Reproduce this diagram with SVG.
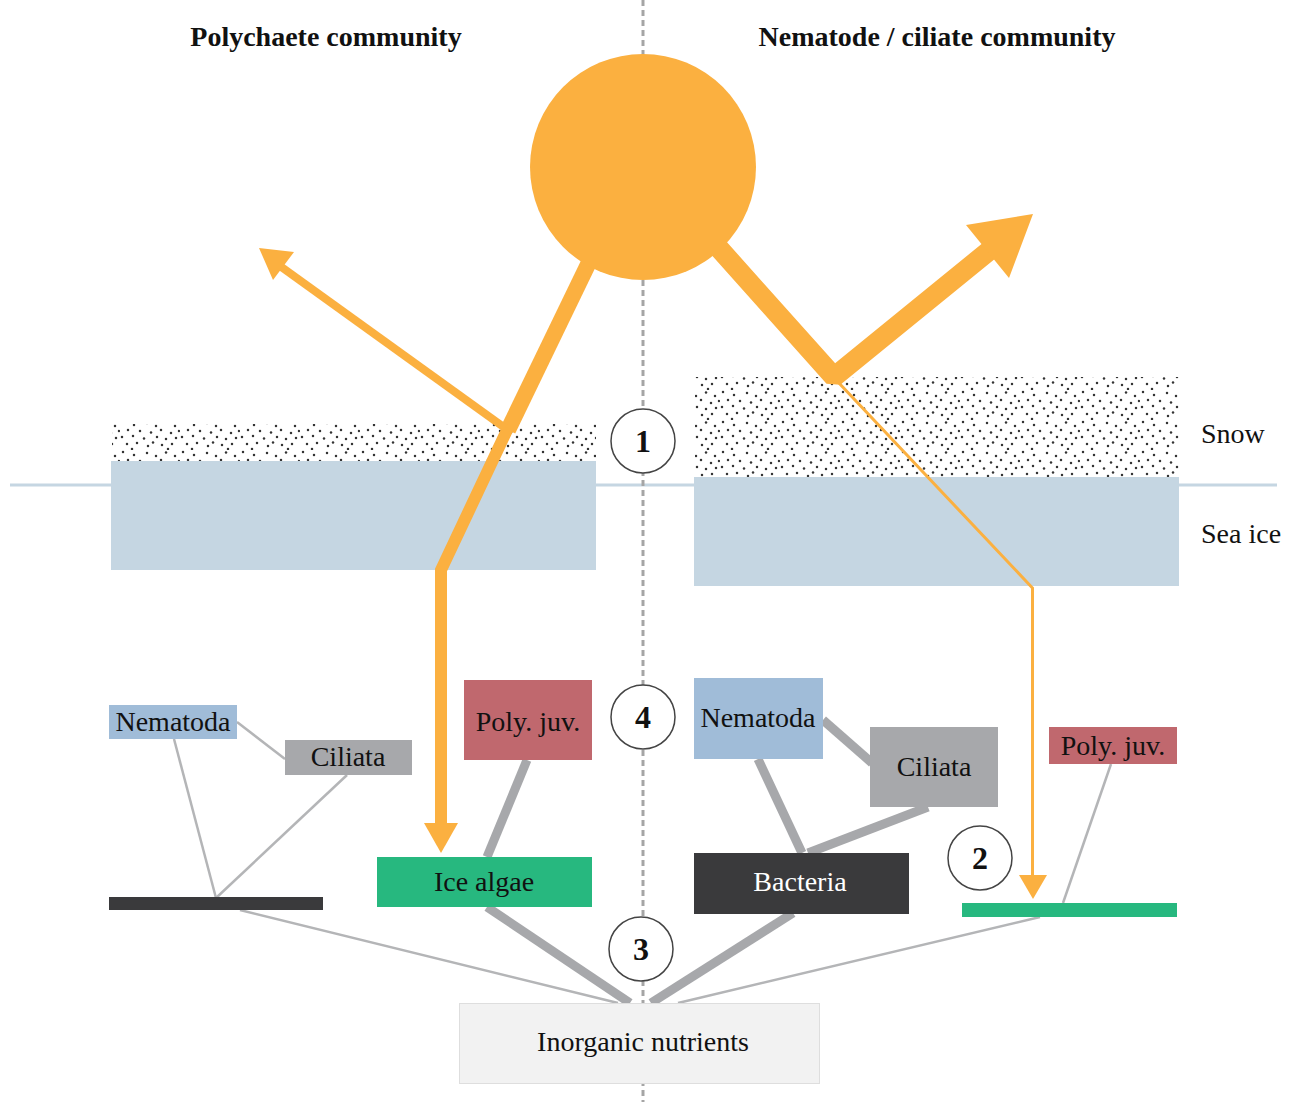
<svg xmlns="http://www.w3.org/2000/svg" width="1295" height="1102" viewBox="0 0 1295 1102">
<style>
.t{font-family:"Liberation Serif","Times New Roman",serif;font-size:28px;fill:#111;text-anchor:middle}
.b{font-weight:bold}
.lab{text-anchor:start}
.num{font-family:"Liberation Serif","Times New Roman",serif;font-weight:bold;font-size:32px;fill:#111;text-anchor:middle}
.circ{fill:#fff;stroke:#444;stroke-width:1.5}
.thin{stroke:#b4b5b7;stroke-width:2.5;fill:none}
.thick{stroke:#a7a8ab;stroke-width:9;fill:none}
.beam{stroke:#fbb040;fill:none}
.ar{fill:#fbb040}
</style>
<defs>
<pattern id="snow" patternUnits="userSpaceOnUse" width="60" height="30">
<g fill="#333">
<circle cx="3" cy="2" r="1.25"/><circle cx="14" cy="5" r="1.25"/><circle cx="27" cy="3" r="1.25"/><circle cx="36" cy="6" r="1.25"/><circle cx="46" cy="2.5" r="1.25"/><circle cx="55" cy="6" r="1.25"/>
<circle cx="8" cy="10" r="1.25"/><circle cx="20" cy="11" r="1.25"/><circle cx="31" cy="12.5" r="1.25"/><circle cx="41" cy="10" r="1.25"/><circle cx="51" cy="13" r="1.25"/><circle cx="59" cy="11" r="1.25"/>
<circle cx="2" cy="17" r="1.25"/><circle cx="13" cy="16" r="1.25"/><circle cx="24" cy="18.5" r="1.25"/><circle cx="37" cy="17" r="1.25"/><circle cx="46" cy="19" r="1.25"/><circle cx="56" cy="18" r="1.25"/>
<circle cx="7" cy="24" r="1.25"/><circle cx="17" cy="23" r="1.25"/><circle cx="28" cy="26" r="1.25"/><circle cx="33" cy="22.5" r="1.25"/><circle cx="42" cy="25" r="1.25"/><circle cx="52" cy="24" r="1.25"/><circle cx="12" cy="29" r="1.25"/><circle cx="48" cy="29" r="1.25"/>
</g>
</pattern>
</defs>
<rect width="1295" height="1102" fill="#fff"/>

<g id="sea">
<line x1="10" y1="485" x2="1277" y2="485" stroke="#c5d6e2" stroke-width="3"/>
<rect x="111" y="461" width="485" height="109" fill="#c5d6e2"/>
<rect x="694" y="477" width="485" height="109" fill="#c5d6e2"/>
<rect x="112" y="424" width="484" height="37" fill="url(#snow)"/>
<rect x="695" y="377" width="484" height="100" fill="url(#snow)"/>
</g>

<line id="divider" x1="643" y1="0" x2="643" y2="1102" stroke="#a5a5a5" stroke-width="3" stroke-dasharray="6 4"/>

<g id="connectors">
<line class="thin" x1="237" y1="722" x2="285" y2="759"/>
<line class="thin" x1="174" y1="739" x2="216" y2="898"/>
<line class="thin" x1="347" y1="775" x2="216" y2="898"/>
<line class="thick" x1="527" y1="760" x2="487" y2="857"/>
<line class="thin" x1="240" y1="910" x2="618" y2="1003"/>
<line class="thick" x1="487" y1="907" x2="630" y2="1003"/>
<line class="thick" x1="823" y1="720" x2="872" y2="763"/>
<line class="thick" x1="758" y1="759" x2="802" y2="853"/>
<line class="thick" x1="928" y1="807" x2="808" y2="853"/>
<line class="thin" x1="1111" y1="764" x2="1063" y2="903"/>
<line class="thick" x1="793" y1="913" x2="651" y2="1003"/>
<line class="thin" x1="1040" y1="917" x2="678" y2="1003"/>
</g>

<g id="light">
<line class="beam" x1="594" y1="252" x2="508" y2="430" stroke-width="16"/>
<polyline class="beam" points="508,428 441,570 441,826" stroke-width="12" stroke-linejoin="miter"/>
<polygon class="ar" points="424,823 458,823 441,853"/>
<line class="beam" x1="505" y1="428" x2="280" y2="266" stroke-width="8"/>
<polygon class="ar" points="259,248 294,252 273,280"/>
<polyline class="beam" points="708,236 834,377 990,250" stroke-width="20" stroke-linejoin="bevel"/>
<polygon class="ar" points="1033,214 966,225 1009,278"/>
<polyline class="beam" points="838,382 1032.5,588 1032.5,878" stroke-width="3"/>
<polygon class="ar" points="1019,875 1047,875 1033,899"/>
</g>

<g id="sun"><circle cx="643" cy="167" r="113" fill="#fbb040"/></g>

<g id="titles">
<text class="t b" x="326" y="46">Polychaete community</text>
<text class="t b" x="937" y="46">Nematode / ciliate community</text>
<text class="t lab" x="1201" y="443">Snow</text>
<text class="t lab" x="1201" y="543">Sea ice</text>
</g>

<g id="n1"><circle class="circ" cx="643" cy="441" r="32"/><text class="num" x="643" y="452">1</text></g>
<g id="n4"><circle class="circ" cx="643" cy="717" r="32"/><text class="num" x="643" y="728">4</text></g>
<g id="n2"><circle class="circ" cx="980" cy="858" r="32"/><text class="num" x="980" y="869">2</text></g>
<g id="n3"><circle class="circ" cx="641" cy="949" r="32"/><text class="num" x="641" y="960">3</text></g>

<g id="left-nematoda"><rect x="109" y="705" width="128" height="34" fill="#a0bcd8"/><text class="t" x="173" y="731">Nematoda</text></g>
<g id="left-ciliata"><rect x="285" y="740" width="127" height="35" fill="#a7a8ab"/><text class="t" x="348" y="766">Ciliata</text></g>
<g id="left-polyjuv"><rect x="464" y="680" width="128" height="80" fill="#c0686e"/><text class="t" x="528" y="731">Poly. juv.</text></g>
<g id="left-icealgae"><rect x="377" y="857" width="215" height="50" fill="#27b87f"/><text class="t" x="484" y="891">Ice algae</text></g>
<g id="left-bacteria"><rect x="109" y="897" width="214" height="13" fill="#3a3a3c"/></g>

<g id="right-nematoda"><rect x="694" y="678" width="129" height="81" fill="#a0bcd8"/><text class="t" x="758" y="727">Nematoda</text></g>
<g id="right-ciliata"><rect x="870" y="727" width="128" height="80" fill="#a7a8ab"/><text class="t" x="934" y="776">Ciliata</text></g>
<g id="right-polyjuv"><rect x="1049" y="727" width="128" height="37" fill="#c0686e"/><text class="t" x="1113" y="755">Poly. juv.</text></g>
<g id="right-bacteria"><rect x="694" y="853" width="215" height="61" fill="#3a3a3c"/><text class="t" x="800" y="891" style="fill:#fff">Bacteria</text></g>
<g id="right-icealgae"><rect x="962" y="903" width="215" height="14" fill="#27b87f"/></g>

<g id="nutrients"><rect x="459.5" y="1003.5" width="360" height="80" fill="#f2f2f2" stroke="#dedede" stroke-width="1"/><text class="t" x="643" y="1051">Inorganic nutrients</text></g>
</svg>
